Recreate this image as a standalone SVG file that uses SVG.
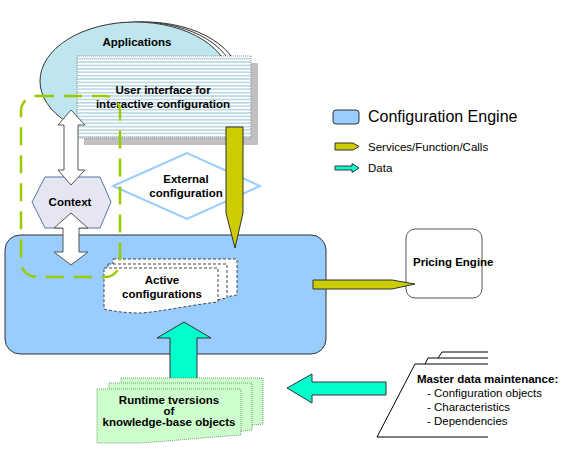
<svg xmlns="http://www.w3.org/2000/svg" width="573" height="463" viewBox="0 0 573 463">
<defs>
<pattern id="stripes" x="0" y="0" width="4" height="3.4" patternUnits="userSpaceOnUse">
<rect width="4" height="3.4" fill="#ffffff"/>
<rect y="0" width="4" height="1.6" fill="#b8d8e4"/>
</pattern>
<style>
.b{font-family:"Liberation Sans",Arial,sans-serif;font-weight:bold;font-size:11.5px;fill:#000;text-anchor:middle}
.r{font-family:"Liberation Sans",Arial,sans-serif;font-size:11.5px;fill:#000}
.warrow{fill:#ffffff;stroke:#555;stroke-width:1}
.yarrow{fill:#cccc00;stroke:#333;stroke-width:1}
.carrow{fill:#00ffcc;stroke:#333;stroke-width:1}
.adoc{fill:#ffffff;stroke:#444;stroke-width:1;stroke-dasharray:3,2}
.gdoc{fill:#ccffcc;stroke:#779977;stroke-width:1;stroke-dasharray:1,1}
.ln{fill:none;stroke:#000;stroke-width:1}
</style>
</defs>
<rect width="573" height="463" fill="#ffffff"/>

<g id="applications">
<ellipse cx="145" cy="81" rx="95" ry="59" fill="#ffffff" stroke="#333" stroke-width="1"/>
<ellipse cx="140" cy="81" rx="95" ry="59" fill="#ffffff" stroke="#333" stroke-width="1"/>
<ellipse cx="135" cy="81" rx="95" ry="59" fill="#bfe6ee" stroke="#333" stroke-width="1"/>
<text class="b" x="137" y="46">Applications</text>
</g>

<g id="user-interface">
<rect x="84" y="63" width="174" height="82" fill="#c0c0c0"/>
<rect x="77" y="56" width="174" height="82" fill="url(#stripes)" stroke="#888" stroke-width="1" stroke-dasharray="1,1"/>
<text class="b" x="163" y="94">User interface for</text>
<text class="b" x="163" y="108">interactive configuration</text>
</g>

<g id="configuration-engine">
<rect x="5" y="235" width="321" height="119" rx="15" fill="#99ccff" stroke="#333" stroke-width="1"/>
</g>

<g id="external-configuration">
<polygon points="113,186 187,153 260,186 187,219" fill="#ffffff" stroke="#99ccff" stroke-width="2"/>
<text class="b" x="186" y="183">External</text>
<text class="b" x="186" y="197">configuration</text>
</g>

<g id="context">
<polygon points="32,202 45,177 100,177 111,202 100,228 45,228" fill="#e6e6f2" stroke="#5577aa" stroke-width="1"/>
<text class="b" x="70" y="206">Context</text>
</g>

<g id="active-configurations">
<path class="adoc" d="M113,259 H237 V295 C225,297 200,302 180,304 L113,300 Z"/>
<path class="adoc" d="M108,264 H227 V298 C215,300 195,304 175,307 L108,304 Z"/>
<path class="adoc" d="M104,268 H218 V302 C190,305 160,312 140,313 C125,313 112,311 104,309 Z"/>
<text class="b" x="162" y="284">Active</text>
<text class="b" x="162" y="298">configurations</text>
</g>

<g id="pricing-engine">
<rect x="406" y="229" width="76" height="69" rx="9" fill="#ffffff" stroke="#555" stroke-width="1"/>
<text class="b" x="413" y="266" style="text-anchor:start">Pricing Engine</text>
</g>

<g id="connectors">
<path class="warrow" d="M71,110 L85,125 H78 V170 H85 L71,185 L58,170 H64 V125 H58 Z"/>
<path class="warrow" d="M71,213 L88,228 H79 V252 H88 L71,265 L54,252 H63 V228 H54 Z"/>
<path class="yarrow" d="M226,127 H243 V213 L235,248 L226,213 Z"/>
<path class="yarrow" d="M313,280 H392 L415,284 L392,289 H313 Z"/>
<path class="carrow" d="M184,322 L211,338 H197 V390 H170 V338 H157 Z"/>
<path class="carrow" d="M287,388 L312,374 V382 H386 V395 H312 V403 Z"/>
</g>

<g id="context-boundary">
<rect x="21" y="96" width="99" height="181" rx="15" fill="none" stroke="#99cc00" stroke-width="2.5" stroke-dasharray="18,10"/>
</g>

<g id="runtime-versions">
<path class="gdoc" d="M121,378 H263 V424 C240,426 215,430 200,432 L121,430 Z"/>
<path class="gdoc" d="M109,383 H252 V430 C230,432 205,436 190,438 L109,436 Z"/>
<path class="gdoc" d="M97,389 H241 V435 C210,437 170,441 140,443 L97,443 Z"/>
<text class="b" x="169" y="404">Runtime tversions</text>
<text class="b" x="169" y="415">of</text>
<text class="b" x="169" y="426">knowledge-base objects</text>
</g>

<g id="master-data">
<path class="ln" d="M442,352 L438,358 M442,352 H488 M428,358 L425,364 M428,358 H488 M488,364 H415 L377,437 H488"/>
<text class="r" x="417" y="383" style="font-weight:bold">Master data maintenance:</text>
<text class="r" x="427" y="397">- Configuration objects</text>
<text class="r" x="427" y="411">- Characteristics</text>
<text class="r" x="427" y="425">- Dependencies</text>
</g>

<g id="legend">
<rect x="333" y="110" width="26" height="14" rx="3" fill="#99ccff" stroke="#333" stroke-width="1"/>
<text class="r" x="368" y="122" style="font-size:16px">Configuration Engine</text>
<path class="yarrow" d="M335,143 H353 L359,146.5 L353,150 H335 Z"/>
<text class="r" x="368" y="151">Services/Function/Calls</text>
<path class="carrow" d="M335,166 H352 V163.5 L359,168 L352,172.5 V170 H335 Z"/>
<text class="r" x="368" y="172">Data</text>
</g>
</svg>
